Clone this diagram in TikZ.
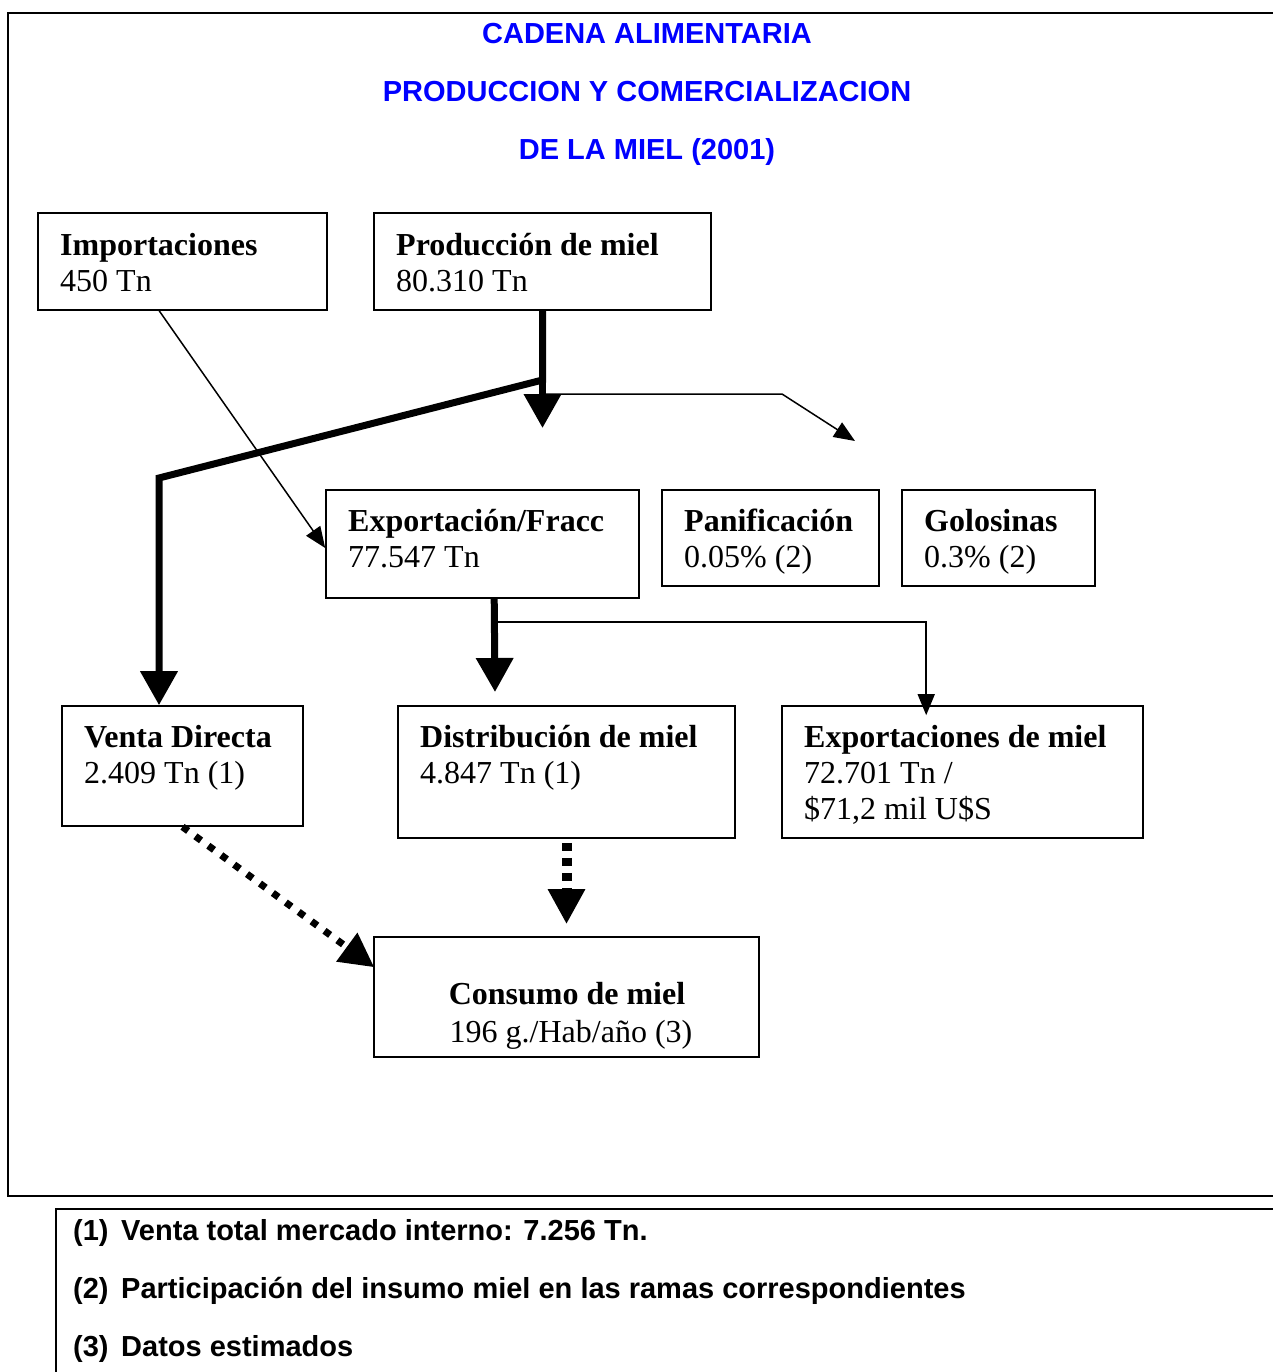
\documentclass[tikz,border=0pt]{standalone}
\usepackage{fontspec}
\setmainfont{Liberation Serif}
\newfontfamily\arialfnt{Liberation Sans}
\usetikzlibrary{arrows.meta,calc}
\definecolor{titleblue}{RGB}{0,0,255}
\begin{document}
\begin{tikzpicture}[x=1pt,y=-1pt,
  box/.style={draw,line width=1.6pt,inner sep=0pt},
  txt/.style={anchor=base west,inner sep=0pt,font=\fontsize{32}{37}\selectfont},
  ctxt/.style={anchor=base,inner sep=0pt,font=\fontsize{32}{37}\selectfont},
  ttl/.style={anchor=base,inner sep=0pt,text=titleblue,font=\arialfnt\bfseries\fontsize{29}{35}\selectfont},
  fnote/.style={anchor=base west,inner sep=0pt,font=\arialfnt\bfseries\fontsize{29}{35}\selectfont},
  frame/.style={line width=2pt},
  thinline/.style={line width=1.5pt,-{Triangle[length=21pt,width=17pt]}},
  thickline/.style={line width=7pt,-{Triangle[length=34pt,width=36pt]}},
  dotline/.style={line width=7pt,dash pattern=on 7pt off 9pt,-{Triangle[length=34pt,width=34pt]}},
  dashline/.style={line width=10pt,dash pattern=on 8pt off 7pt,-{Triangle[length=35pt,width=35pt]}}
]
\useasboundingbox (0,0) rectangle (1273,1372);
% frames
\draw[frame] (1274,13) -- (8,13) -- (8,1196) -- (1274,1196);
\draw[frame] (1274,1209) -- (56,1209) -- (56,1373);
% titles
\node[ttl] (t1) at (647,44) {CADENA ALIMENTARIA};
\node[ttl] (t2) at (647,102) {PRODUCCION Y COMERCIALIZACION};
\node[ttl] (t3) at (647,160) {DE LA MIEL (2001)};
% boxes
\node[box,minimum width=289pt,minimum height=97pt] (imp) at (182.5,261.5) {};
\node[box,minimum width=337pt,minimum height=97pt] (prod) at (542.5,261.5) {};
\node[box,minimum width=313pt,minimum height=108pt] (exf) at (482.5,544) {};
\node[box,minimum width=217pt,minimum height=96pt] (pan) at (770.5,538) {};
\node[box,minimum width=193pt,minimum height=96pt] (gol) at (998.5,538) {};
\node[box,minimum width=241pt,minimum height=120pt] (ven) at (182.5,766) {};
\node[box,minimum width=337pt,minimum height=132pt] (dis) at (566.5,772) {};
\node[box,minimum width=361pt,minimum height=132pt] (expm) at (962.5,772) {};
\node[box,minimum width=385pt,minimum height=120pt] (con) at (566.5,997) {};
% box texts
\node[txt] (imp1) at (60,255) {\textbf{Importaciones}};
\node[txt] (imp2) at (60,291) {450 Tn};
\node[txt] (prod1) at (396,255) {\textbf{Producción de miel}};
\node[txt] (prod2) at (396,291) {80.310 Tn};
\node[txt] (exf1) at (348,531) {\textbf{Exportación/Fracc}};
\node[txt] (exf2) at (348,567) {77.547 Tn};
\node[txt] (pan1) at (684,531) {\textbf{Panificación}};
\node[txt] (pan2) at (684,567) {0.05\% (2)};
\node[txt] (gol1) at (924,531) {\textbf{Golosinas}};
\node[txt] (gol2) at (924,567) {0.3\% (2)};
\node[txt] (ven1) at (84,747) {\textbf{Venta Directa}};
\node[txt] (ven2) at (84,783) {2.409 Tn (1)};
\node[txt] (dis1) at (420,747) {\textbf{Distribución de miel}};
\node[txt] (dis2) at (420,783) {4.847 Tn (1)};
\node[txt] (expm1) at (804,747) {\textbf{Exportaciones de miel}};
\node[txt] (expm2) at (804,783) {72.701 Tn /};
\node[txt] (expm3) at (804,819) {\$71,2 mil U\$S};
\node[ctxt] (con1) at (567,1004) {\textbf{Consumo de miel}};
\node[ctxt] (con2) at (571,1042) {196 g./Hab/año (3)};
% footnotes
\node[fnote] (f1) at (73,1240) {\makebox[48pt][l]{(1)}Venta total mercado interno: 7.256 Tn.};
\node[fnote] (f2) at (73,1298) {\makebox[48pt][l]{(2)}Participación del insumo miel en las ramas correspondientes};
\node[fnote] (f3) at (73,1356) {\makebox[48pt][l]{(3)}Datos estimados};
% connectors
\coordinate (j1) at (542.5,380);
\coordinate (b1) at (159,478);
\coordinate (tp1) at (542.5,428);
\coordinate (j2) at (542.5,394);
\coordinate (b2) at (782,394);
\coordinate (tp2) at (855,441);
\coordinate (e1) at ($(exf.south west)+(169,0)$);
\coordinate (tp3) at (495,692);
\coordinate (j3) at (495,622);
\draw[thinline] ($(imp.south west)+(122,0)$) -- ($(exf.west)+(0,4)$);
\draw[thickline] (prod.south) -- (j1) -- (b1) -- (b1 |- ven.north);
\draw[thickline] (j1) -- (tp1);
\draw[thinline] (j2) -- (b2) -- (tp2);
\draw[thickline] (e1) -- (tp3);
\draw[thinline] (j3) -| ($(expm.north west)+(145,10)$);
\draw[dotline] (ven.south) -- ($(con.north west)+(1,31)$);
\draw[dashline] ($(dis.south)+(0,4)$) -- ($(con.north)+(0,-12)$);
\end{tikzpicture}
\end{document}
